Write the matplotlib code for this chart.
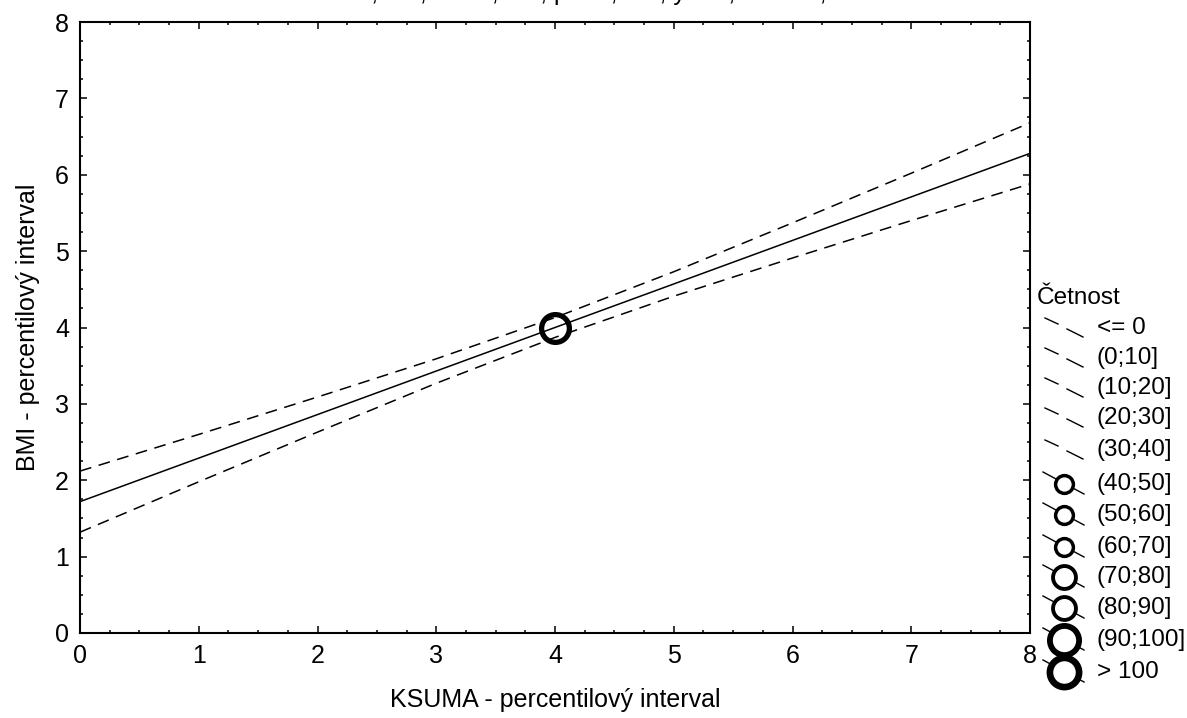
import numpy as np
import matplotlib
matplotlib.use("Agg")
import matplotlib.pyplot as plt
from matplotlib.ticker import MultipleLocator, AutoMinorLocator

plt.rcParams["font.family"] = ["Liberation Sans", "DejaVu Sans"]
plt.rcParams["lines.scale_dashes"] = False

# regression of BMI on KSUMA with 0.95 confidence band
ksuma = [0, 1, 2, 3, 4, 5, 6, 7, 8]
bmi_fit = [1.72, 2.29, 2.86, 3.43, 4.00, 4.57, 5.14, 5.71, 6.28]
bmi_upper = [2.12, 2.60, 3.09, 3.59, 4.13, 4.73, 5.37, 6.02, 6.68]
bmi_lower = [1.32, 1.98, 2.63, 3.27, 3.87, 4.41, 4.91, 5.40, 5.88]

# observed point (both variables in the same percentile interval)
point_x = [4]
point_y = [4]

title = "KSUMA:BMI:   r² = 0,998;  r = 0,999, p = 0,000; y = 1,720 + 0,570*x"

# frequency classes: label, marker size (pt), edge width (pt); 0 = no marker
freq_labels = ["<= 0", "(0;10]", "(10;20]", "(20;30]", "(30;40]", "(40;50]",
               "(50;60]", "(60;70]", "(70;80]", "(80;90]", "(90;100]", "> 100"]
freq_sizes = [0, 0, 0, 0, 0, 12.8, 12.8, 12.8, 16.5, 16.5, 21.0, 21.0]
freq_widths = [0, 0, 0, 0, 0, 2.5, 2.5, 2.5, 2.8, 2.8, 4.2, 4.8]
row_y = [328, 358, 388, 418, 450, 484, 515, 547, 577, 608, 640, 672]

W, H = 1187, 718
fig = plt.figure(figsize=(W / 100, H / 100), dpi=100)
ax = fig.add_axes([80 / W, 1 - 633 / H, 950 / W, 611 / H])

ax.plot(ksuma, bmi_fit, color="black", lw=1.1)
ax.plot(ksuma, bmi_upper, color="black", lw=1.1, dashes=(8.5, 5.5))
ax.plot(ksuma, bmi_lower, color="black", lw=1.1, dashes=(8.5, 5.5))
ax.plot(point_x, point_y, "o", ms=20, mew=3.8, mec="black", mfc="none")

ax.set_xlim(0, 8)
ax.set_ylim(0, 8)
ax.xaxis.set_major_locator(MultipleLocator(1))
ax.yaxis.set_major_locator(MultipleLocator(1))
ax.xaxis.set_minor_locator(AutoMinorLocator(4))
ax.yaxis.set_minor_locator(AutoMinorLocator(4))
ax.tick_params(which="both", direction="in", top=True, right=True,
               labelsize=18, width=1.1)
ax.tick_params(which="major", length=5)
ax.tick_params(which="minor", length=2.2)
ax.tick_params(axis="x", pad=8)
ax.tick_params(axis="y", pad=8)
for s in ax.spines.values():
    s.set_linewidth(1.5)

ax.set_xlabel("KSUMA - percentilový interval", fontsize=18, labelpad=14)
ax.set_ylabel("BMI - percentilový interval", fontsize=18, labelpad=11)

fig.text(144 / W, 1.0, title, fontsize=18, ha="left", va="baseline")

# legend drawn in pixel space
lax = fig.add_axes([0, 0, 1, 1], facecolor="none")
lax.set_xlim(0, W)
lax.set_ylim(H, 0)
lax.axis("off")
lax.text(1037, 298, "Četnost", fontsize=17.5, va="center", ha="left")
cx = 1064
for lab, ms, mw, y in zip(freq_labels, freq_sizes, freq_widths, row_y):
    if ms == 0:
        lax.plot([cx - 19, cx - 6], [y - 10, y - 4], color="black", lw=1.0)
        lax.plot([cx + 3, cx + 19], [y + 1, y + 9], color="black", lw=1.0)
    else:
        lax.plot([cx - 21, cx + 20], [y - 12, y + 10], color="black", lw=1.0)
        lax.plot([cx], [y], "o", ms=ms, mew=mw, mec="black", mfc="white")
    lax.text(1097, y, lab, fontsize=17.5, va="center", ha="left")

fig.savefig("out.png", dpi=100)
